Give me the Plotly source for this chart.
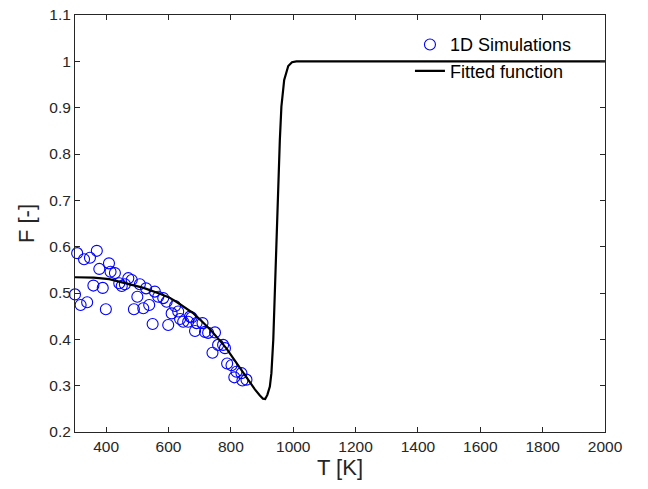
import plotly.graph_objects as go

# 1D simulation results (T in K, F dimensionless)
sim_T = [300, 307, 318, 329, 339, 348, 359, 370, 378, 389, 399, 409, 414, 428,
         442, 450, 460, 471, 482, 489, 500, 508, 519, 528, 538, 549, 556, 567,
         583, 594, 599, 610, 621, 631, 637, 647, 663, 669, 674, 685, 690, 709,
         717, 727, 741, 749, 759, 775, 781, 788, 802, 811, 818, 834, 837, 850]
sim_F = [0.497, 0.586, 0.474, 0.573, 0.480, 0.576, 0.516, 0.591, 0.552, 0.511,
         0.465, 0.564, 0.546, 0.543, 0.521, 0.515, 0.519, 0.532, 0.528, 0.465,
         0.492, 0.519, 0.467, 0.510, 0.474, 0.433, 0.503, 0.492, 0.489, 0.481,
         0.431, 0.456, 0.472, 0.460, 0.444, 0.438, 0.438, 0.449, 0.447, 0.418,
         0.435, 0.435, 0.416, 0.414, 0.371, 0.415, 0.388, 0.388, 0.381, 0.348,
         0.344, 0.318, 0.330, 0.327, 0.311, 0.313]

# Fitted function
fit_T = [300, 360, 410, 465, 520, 570, 600, 625, 650, 680, 705, 735, 760, 785,
         810, 840, 877, 893, 903, 910, 917, 925, 930, 936, 941, 946, 952, 957,
         962, 971, 984, 996, 1010, 1030, 2000]
fit_F = [0.534, 0.533, 0.530, 0.521, 0.511, 0.499, 0.491, 0.481, 0.470, 0.456,
         0.440, 0.420, 0.401, 0.381, 0.357, 0.327, 0.292, 0.279, 0.272, 0.271,
         0.280, 0.298, 0.327, 0.399, 0.506, 0.614, 0.722, 0.830, 0.902, 0.960,
         0.990, 0.998, 1.0, 1.0, 1.0]

x_ticks = [400, 600, 800, 1000, 1200, 1400, 1600, 1800, 2000]
y_ticks = [0.2, 0.3, 0.4, 0.5, 0.6, 0.7, 0.8, 0.9, 1.0, 1.1]
y_tick_labels = ["0.2", "0.3", "0.4", "0.5", "0.6", "0.7", "0.8", "0.9", "1", "1.1"]

FONT = "Liberation Sans, Arial, sans-serif"
TXT = "#262626"

fig = go.Figure()
fig.add_trace(go.Scatter(
    x=sim_T, y=sim_F, mode="markers", name="1D Simulations",
    marker=dict(symbol="circle-open", size=11, color="#0000ff",
                line=dict(width=1.1, color="#0000ff")),
    cliponaxis=False,
))
fig.add_trace(go.Scatter(
    x=fit_T, y=fit_F, mode="lines", name="Fitted function",
    line=dict(color="black", width=2.2),
))

axis_common = dict(
    showline=True, linecolor=TXT, linewidth=1, mirror="ticks",
    ticks="inside", ticklen=5, tickcolor=TXT, tickwidth=1,
    showgrid=False, zeroline=False, automargin=False,
    tickfont=dict(family=FONT, size=15.5, color=TXT),
)

fig.update_layout(
    width=648, height=489,
    margin=dict(l=75, r=43, t=15, b=57, autoexpand=False),
    paper_bgcolor="white", plot_bgcolor="white",
    font=dict(family=FONT, color=TXT),
    xaxis=dict(range=[300, 2000], tickvals=x_ticks,
               title=dict(text="T [K]", font=dict(family=FONT, size=22, color=TXT), standoff=3),
               **axis_common),
    yaxis=dict(range=[0.2, 1.1], tickvals=y_ticks, ticktext=y_tick_labels,
               title=dict(text="F [-]", font=dict(family=FONT, size=22, color=TXT), standoff=8),
               **axis_common),
    legend=dict(x=0.632, y=0.973, xanchor="left", yanchor="top",
                bgcolor="rgba(0,0,0,0)", borderwidth=0,
                font=dict(family=FONT, size=18, color="black"),
                tracegroupgap=0),
    showlegend=True,
)

fig.write_html("out.html")
